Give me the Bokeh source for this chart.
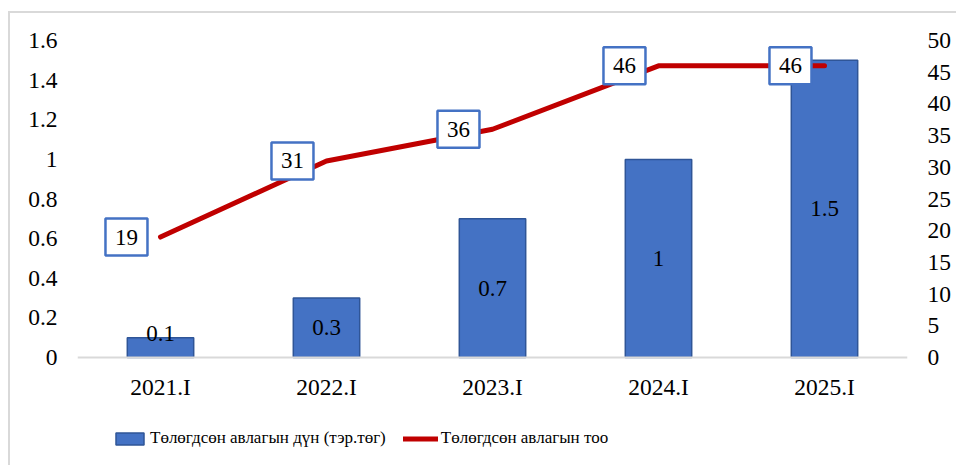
from bokeh.plotting import figure
from bokeh.models import (ColumnDataSource, Range1d, LinearAxis, FactorRange,
                          Legend, LegendItem, FixedTicker)
from bokeh.transform import dodge
from bokeh.core.properties import value
from bokeh.embed import file_html
from bokeh.resources import INLINE

# ---- data ----
categories = ["2021.I", "2022.I", "2023.I", "2024.I", "2025.I"]
amounts = [0.1, 0.3, 0.7, 1.0, 1.5]          # Төлөгдсөн авлагын дүн (тэр.төг)
counts = [19, 31, 36, 46, 46]                # Төлөгдсөн авлагын тоо
amount_labels = ["0.1", "0.3", "0.7", "1", "1.5"]
count_labels = ["19", "31", "36", "46", "46"]
left_ticks = [0, 0.2, 0.4, 0.6, 0.8, 1.0, 1.2, 1.4, 1.6]
right_ticks = [0, 5, 10, 15, 20, 25, 30, 35, 40, 45, 50]
series_names = ["Төлөгдсөн авлагын дүн (тэр.төг)", "Төлөгдсөн авлагын тоо"]

FONT = "Liberation Serif"
BAR_FILL = "#4472C4"
BAR_LINE = "#2F5597"
LINE_COL = "#C00000"

# plot geometry: value axes occupy the top 317 px of a taller frame,
# the space under zero holds the category labels and the legend
AXIS_PX = 317
FRAME_H = 440
left_max = left_ticks[-1]
right_max = right_ticks[-1]
left_min = left_max - left_max * FRAME_H / AXIS_PX
right_min = right_max - right_max * FRAME_H / AXIS_PX

src = ColumnDataSource(dict(
    cat=categories,
    amt=amounts,
    amt_lab=amount_labels,
    amt_y=[max(v / 2, 0.12) for v in amounts],
    cnt=counts,
    cnt_lab=count_labels,
))

p = figure(
    x_range=FactorRange(*categories, range_padding=0),
    y_range=Range1d(left_min, left_max),
    frame_width=830, frame_height=FRAME_H,
    output_backend="svg", toolbar_location=None,
    min_border_left=67, min_border_right=53,
    min_border_top=27, min_border_bottom=0,
)
p.styles = {"margin-left": "8px", "margin-top": "11px",
            "border-left": "2px solid #d9d9d9", "border-top": "2px solid #d9d9d9"}
p.outline_line_color = None
p.xgrid.grid_line_color = None
p.ygrid.grid_line_color = None
p.background_fill_color = "white"
p.border_fill_color = "white"

p.extra_y_ranges = {"right": Range1d(right_min, right_max)}

def style_axis(ax):
    ax.major_tick_line_color = None
    ax.minor_tick_line_color = None
    ax.major_tick_out = 0
    ax.major_tick_in = 0
    ax.major_label_text_font = FONT
    ax.major_label_text_font_size = "23.5px"
    ax.major_label_text_color = "#000000"

yl = p.yaxis[0]
yl.ticker = FixedTicker(ticks=left_ticks)
yl.axis_line_color = None
yl.major_label_standoff = 20
yl.major_label_overrides = {0: "0", 1: "1"}
style_axis(yl)

yr = LinearAxis(y_range_name="right", ticker=FixedTicker(ticks=right_ticks))
yr.axis_line_color = None
yr.major_label_standoff = 20
style_axis(yr)
p.add_layout(yr, "right")

xa = p.xaxis[0]
xa.fixed_location = 0
xa.axis_line_color = "#d9d9d9"
xa.axis_line_width = 2
xa.major_label_standoff = 16
style_axis(xa)

# bars
bars = p.vbar(x="cat", top="amt", bottom=0, width=0.4, source=src,
              fill_color=BAR_FILL, line_color=BAR_LINE, line_width=1.5)
p.text(x="cat", y="amt_y", text="amt_lab", source=src,
       text_font=value(FONT), text_font_size="23px", text_color="#000000",
       text_align="center", text_baseline="middle")

# line
ln = p.line(x="cat", y="cnt", source=src, y_range_name="right",
            line_color=LINE_COL, line_width=5, line_cap="round", line_join="round")

# labelled boxes for counts
p.rect(x=dodge("cat", -0.205, range=p.x_range), y="cnt", source=src,
       y_range_name="right", width=42, height=37,
       width_units="screen", height_units="screen",
       fill_color="white", line_color="#4472C4", line_width=2.5)
p.text(x=dodge("cat", -0.205, range=p.x_range), y="cnt", text="cnt_lab",
       source=src, y_range_name="right",
       text_font=value(FONT), text_font_size="23px", text_color="#000000",
       text_align="center", text_baseline="middle")

legend = Legend(
    items=[LegendItem(label=series_names[0], renderers=[bars]),
           LegendItem(label=series_names[1], renderers=[ln])],
    location=(35, 32), orientation="horizontal",
    padding=0, margin=0, spacing=17,
    glyph_width=35, glyph_height=15, label_standoff=3, label_height=20,
    label_text_font=FONT, label_text_font_size="17px", label_text_color="#000000",
    background_fill_alpha=0, border_line_color=None,
)
p.add_layout(legend, "center")

open("out.html", "w").write(file_html(p, INLINE))
